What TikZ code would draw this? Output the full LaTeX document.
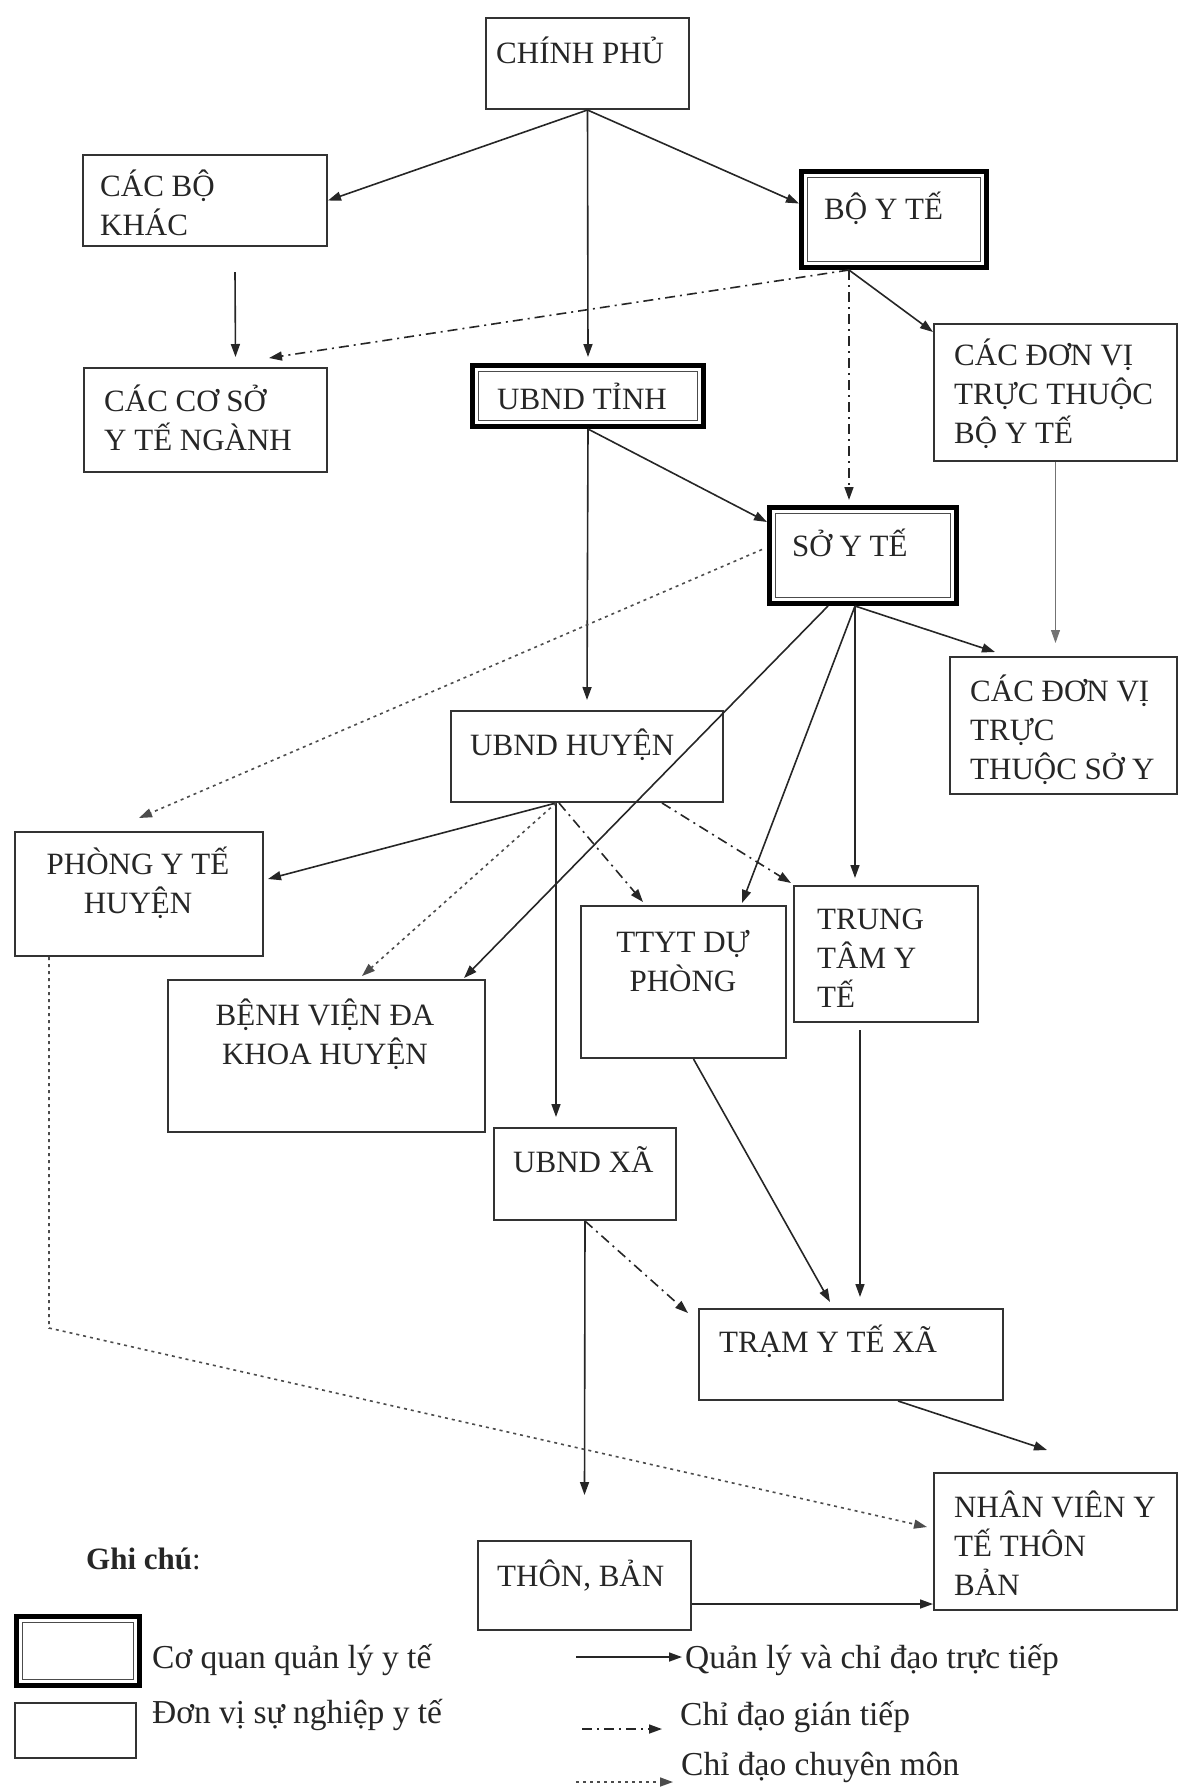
\documentclass[tikz,border=0pt]{standalone}
\usepackage{fontspec}
\setmainfont{Liberation Serif}
\usetikzlibrary{arrows.meta}

\begin{document}
\begin{tikzpicture}
  [x=1pt,y=-1pt,font=\fontsize{31}{39}\selectfont,
   unit/.style={draw=black!80,line width=2pt,anchor=north west,inner sep=0},
   office/.style={draw=black,line width=5pt,anchor=north west,inner sep=0,
     path picture={\draw[black!70,line width=1.5pt]
       ([shift={(6pt,6pt)}]path picture bounding box.south west) rectangle
       ([shift={(-6pt,-6pt)}]path picture bounding box.north east);}},
   txt/.style={inner sep=0,anchor=base west,align=left,text=black!85},
   ctxt/.style={inner sep=0,anchor=base,align=center,text=black!85},
   keytxt/.style={txt,font=\fontsize{33.5}{40}\selectfont},
   direct/.style={black!85,line width=1.6pt,-{Triangle[length=13pt,width=9pt]}},
   indirect/.style={direct,dash pattern=on 10pt off 5pt on 2pt off 5pt},
   expert/.style={direct,black!70,dash pattern=on 3pt off 4pt}]
  \useasboundingbox (0,0) rectangle (1182,1789);

  % boxes
  \node[unit,minimum width=203pt,minimum height=91pt]   (cp)   at (485,17)   {};
  \node[unit,minimum width=244pt,minimum height=91pt]   (cbk)  at (82,154)   {};
  \node[office,minimum width=185pt,minimum height=96pt] (byt)  at (799,169)  {};
  \node[unit,minimum width=243pt,minimum height=104pt]  (csyt) at (83,367)   {};
  \node[office,minimum width=231pt,minimum height=61pt] (ubt)  at (470,363)  {};
  \node[unit,minimum width=243pt,minimum height=137pt]  (dvb)  at (933,323)  {};
  \node[office,minimum width=187pt,minimum height=96pt] (syt)  at (767,505)  {};
  \node[unit,minimum width=227pt,minimum height=137pt]  (dvs)  at (949,656)  {};
  \node[unit,minimum width=272pt,minimum height=91pt]   (ubh)  at (450,710)  {};
  \node[unit,minimum width=248pt,minimum height=124pt]  (pyt)  at (14,831)   {};
  \node[unit,minimum width=317pt,minimum height=152pt]  (bv)   at (167,979)  {};
  \node[unit,minimum width=205pt,minimum height=152pt]  (tt)   at (580,905)  {};
  \node[unit,minimum width=184pt,minimum height=136pt]  (ttyt) at (793,885)  {};
  \node[unit,minimum width=182pt,minimum height=92pt]   (ubx)  at (493,1127) {};
  \node[unit,minimum width=304pt,minimum height=91pt]   (tram) at (698,1308) {};
  \node[unit,minimum width=243pt,minimum height=137pt]  (nv)   at (933,1472) {};
  \node[unit,minimum width=213pt,minimum height=89pt]   (tb)   at (477,1540) {};

  % texts (base = last line)
  \node[txt]  (cp-t)   at (496,63)   {CHÍNH PHỦ};
  \node[txt]  (cbk-t)  at (100,235)  {CÁC BỘ\\KHÁC};
  \node[txt]  (byt-t)  at (824,219)  {BỘ Y TẾ};
  \node[txt]  (csyt-t) at (104,450)  {CÁC CƠ SỞ\\Y TẾ NGÀNH};
  \node[txt]  (ubt-t)  at (497,409)  {UBND TỈNH};
  \node[txt]  (dvb-t)  at (954,443)  {CÁC ĐƠN VỊ\\TRỰC THUỘC\\BỘ Y TẾ};
  \node[txt]  (syt-t)  at (792,556)  {SỞ Y TẾ};
  \node[txt]  (dvs-t)  at (970,779)  {CÁC ĐƠN VỊ\\TRỰC\\THUỘC SỞ Y};
  \node[txt]  (ubh-t)  at (470,755)  {UBND HUYỆN};
  \node[ctxt] (pyt-t)  at (138,913)  {PHÒNG Y TẾ\\HUYỆN};
  \node[ctxt] (bv-t)   at (325,1064) {BỆNH VIỆN ĐA\\KHOA HUYỆN};
  \node[ctxt] (tt-t)   at (683,991)  {TTYT DỰ\\PHÒNG};
  \node[txt]  (ttyt-t) at (817,1007) {TRUNG\\TÂM Y\\TẾ};
  \node[txt]  (ubx-t)  at (513,1172) {UBND XÃ};
  \node[txt]  (tram-t) at (719,1352) {TRẠM Y TẾ XÃ};
  \node[txt]  (nv-t)   at (954,1595) {NHÂN VIÊN Y\\TẾ THÔN\\BẢN};
  \node[txt]  (tb-t)   at (497,1586) {THÔN, BẢN};

  % connector ends
  \coordinate (byt-out)  at ([xshift=-45pt]byt.south);
  \coordinate (syt-out)  at ([xshift=-8pt]syt.south);
  \coordinate (ubh-out)  at ([xshift=-31pt]ubh.south);
  \coordinate (ttyt-out) at ([xshift=-26pt]ttyt.south);
  \coordinate (nv-in)    at ([yshift=7pt]nv.south west);
  \coordinate (pyt-bend) at (49,1328);

  % quan ly truc tiep
  \draw[direct] (cp.south) -- (cbk.east);
  \draw[direct] (cp.south) -- ([yshift=6pt]ubt.north);
  \draw[direct] (cp.south) -- ([yshift=16pt]byt.west);
  \draw[direct] ([xshift=30pt,yshift=-25pt]cbk.south) -- ([xshift=30pt,yshift=10pt]csyt.north);
  \draw[direct] (byt-out) -- ([yshift=-9pt]dvb.north west);
  \draw[direct] (ubt.south) -- ([yshift=-17pt]syt.north west);
  \draw[direct] (ubt.south) -- ([yshift=10pt]ubh.north);
  \draw[direct,black!55,line width=0.9pt] (dvb.south) -- ([yshift=13pt]dvb.south |- dvs.north);
  \draw[direct] (syt-out) -- ([xshift=46pt,yshift=4pt]dvs.north west);
  \draw[direct] (syt-out) -- ([yshift=7pt]syt-out |- ttyt.north);
  \draw[direct] (syt-out) -- ([xshift=-45pt,yshift=2pt]tt.north east);
  \draw[direct] ([xshift=-35pt]syt.south) -- ([xshift=-22pt,yshift=1pt]bv.north east);
  \draw[direct] (ubh-out) -- ([xshift=4pt,yshift=15pt]pyt.east);
  \draw[direct] (ubh-out) -- ([yshift=10pt]ubh-out |- ubx.north);
  \draw[direct] ([xshift=10pt]tt.south) -- ([xshift=-21pt,yshift=6pt]tram.north);
  \draw[direct] ([yshift=-7pt]ttyt-out) -- ([yshift=11pt]ttyt-out |- tram.north);
  \draw[direct] (ubx.south) -- ([yshift=45pt]tb.north);
  \draw[direct] ([xshift=47pt]tram.south) -- ([xshift=114pt,yshift=22pt]nv.north west);
  \draw[direct] (tb.east |- nv-in) -- (nv-in);

  % chi dao gian tiep
  \draw[indirect] (byt-out) -- ([xshift=186pt,yshift=9pt]csyt.north west);
  \draw[indirect] (byt-out) -- ([yshift=5pt]byt-out |- syt.north);
  \draw[indirect] ([xshift=3pt]ubh-out) -- ([xshift=63pt,yshift=3pt]tt.north west);
  \draw[indirect] ([xshift=75pt]ubh.south) -- ([xshift=-2pt,yshift=2pt]ttyt.north west);
  \draw[indirect] (ubx.south) -- ([xshift=-10pt,yshift=-5pt]tram.north west);

  % chi dao chuyen mon
  \draw[expert] ([xshift=-5pt,yshift=6pt]syt.west) -- ([yshift=13pt]pyt.north);
  \draw[expert] (ubh-out) -- ([xshift=195pt,yshift=3pt]bv.north west);
  \draw[expert] (pyt.south -| pyt-bend) -- (pyt-bend) -- ([xshift=-6pt,yshift=-55pt]nv.north west);

  % legend
  \node[txt] (note) at (86,1569) {\textbf{Ghi chú}:};
  \node[office,minimum width=123pt,minimum height=69pt] (lg1) at (14,1614) {};
  \node[unit,minimum width=121pt,minimum height=55pt]   (lg2) at (14,1702) {};
  \node[keytxt] (lg1-t) at (152,1668) {Cơ quan quản lý y tế};
  \node[keytxt] (lg2-t) at (152,1723) {Đơn vị sự nghiệp y tế};
  \node[keytxt] (la1-t) at (685,1668) {Quản lý và chỉ đạo trực tiếp};
  \node[keytxt] (la2-t) at (680,1725) {Chỉ đạo gián tiếp};
  \node[keytxt] (la3-t) at (681,1775) {Chỉ đạo chuyên môn};
  \coordinate (la1-s) at (576,1657); \coordinate (la1-e) at (682,1657);
  \coordinate (la2-s) at (582,1729); \coordinate (la2-e) at (662,1729);
  \coordinate (la3-s) at (576,1782); \coordinate (la3-e) at (673,1782);
  \draw[direct] (la1-s) -- (la1-e);
  \draw[indirect] (la2-s) -- (la2-e);
  \draw[expert] (la3-s) -- (la3-e);
\end{tikzpicture}
\end{document}
